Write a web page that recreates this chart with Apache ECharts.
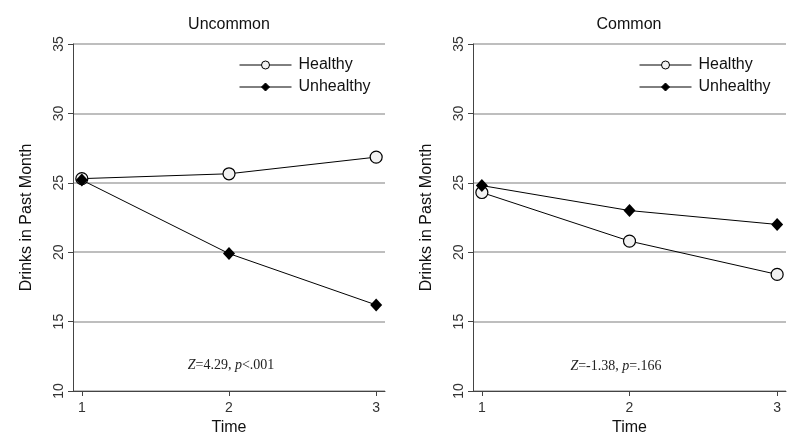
<!DOCTYPE html>
<html>
<head>
<meta charset="utf-8">
<script src="https://cdn.jsdelivr.net/npm/echarts@6/dist/echarts.min.js"></script>
<style>
  html, body { margin: 0; padding: 0; background: #fff; }
  #chart { width: 800px; height: 448px; }
</style>
</head>
<body>
<div id="chart"></div>
<script>
const times = [1, 2, 3];
const yTicks = [10, 15, 20, 25, 30, 35];
const panels = ["Uncommon", "Common"];
const uncommonHealthy = [25.3, 25.65, 26.85];
const uncommonUnhealthy = [25.2, 19.9, 16.2];
const commonHealthy = [24.3, 20.8, 18.4];
const commonUnhealthy = [24.8, 23.0, 22.0];
const notes = [
  ["Z", "=4.29, ", "p", "<.001"],
  ["Z", "=-1.38, ", "p", "=.166"],
];

const sans = "'Liberation Sans', Arial, sans-serif";
const serif = "'Liberation Serif', 'Times New Roman', serif";

const grids = [
  { left: 73, right: 415, top: 44, bottom: 57 },
  { left: 473, right: 14, top: 44, bottom: 57 },
];

const pairs = (vals) => times.map((t, i) => [t, vals[i]]);

const xAxis = grids.map((g, i) => ({
  type: "value",
  gridIndex: i,
  min: 0.94,
  max: 3.06,
  name: "Time",
  nameLocation: "middle",
  nameGap: 24,
  nameTextStyle: { fontFamily: sans, fontSize: 16, color: "#111" },
  axisLine: { lineStyle: { color: "#444", width: 1 } },
  axisTick: { show: true, length: 5, customValues: times, lineStyle: { color: "#444" } },
  axisLabel: { customValues: times, fontFamily: sans, fontSize: 14, color: "#333", margin: 10 },
  splitLine: { show: false },
}));

const yAxis = grids.map((g, i) => ({
  type: "value",
  gridIndex: i,
  min: yTicks[0],
  max: yTicks[yTicks.length - 1],
  interval: 5,
  name: "Drinks in Past Month",
  nameLocation: "middle",
  nameGap: 38,
  nameTextStyle: { fontFamily: sans, fontSize: 16, color: "#111" },
  axisLine: { show: true, lineStyle: { color: "#444", width: 1 } },
  axisTick: { show: true, length: 5, lineStyle: { color: "#444" } },
  axisLabel: { rotate: 90, fontFamily: sans, fontSize: 14, color: "#333", margin: 7 },
  splitLine: { show: true, lineStyle: { color: "#a8a8a8", width: 1.5 } },
}));

const healthyStyle = {
  symbol: "circle",
  symbolSize: 12,
  itemStyle: { color: "#f2f2f2", borderColor: "#000", borderWidth: 1.2 },
  lineStyle: { color: "#000", width: 1 },
};
const unhealthyStyle = {
  symbol: "diamond",
  symbolSize: [12, 13],
  itemStyle: { color: "#000", borderColor: "#000", borderWidth: 0 },
  lineStyle: { color: "#000", width: 1 },
};

const series = [
  Object.assign({ type: "line", name: "Healthy", xAxisIndex: 0, yAxisIndex: 0, data: pairs(uncommonHealthy), z: 3 }, healthyStyle),
  Object.assign({ type: "line", name: "Unhealthy", xAxisIndex: 0, yAxisIndex: 0, data: pairs(uncommonUnhealthy), z: 4 }, unhealthyStyle),
  Object.assign({ type: "line", name: "Healthy", xAxisIndex: 1, yAxisIndex: 1, data: pairs(commonHealthy), z: 3 }, healthyStyle),
  Object.assign({ type: "line", name: "Unhealthy", xAxisIndex: 1, yAxisIndex: 1, data: pairs(commonUnhealthy), z: 4 }, unhealthyStyle),
];

const legendAt = [239, 639];
const legend = legendAt.map((x) => ({
  data: ["Healthy", "Unhealthy"],
  orient: "vertical",
  left: x,
  top: 57,
  padding: 0,
  itemWidth: 52,
  itemHeight: 10,
  itemGap: 6,
  selectedMode: false,
  itemStyle: { borderWidth: 1 },
  lineStyle: { width: 1 },
  textStyle: { fontFamily: sans, fontSize: 16, lineHeight: 16, color: "#111", padding: [0, 0, 0, 2] },
}));

const titleAt = [229, 629];
const noteAt = [[231, 365], [616, 366]];
const graphic = [];
panels.forEach((p, i) => {
  graphic.push({
    type: "text",
    x: titleAt[i],
    y: 25,
    style: { text: p, fontFamily: sans, fontSize: 16, fill: "#111", align: "center", verticalAlign: "middle" },
  });
  const n = notes[i];
  graphic.push({
    type: "text",
    x: noteAt[i][0],
    y: noteAt[i][1],
    style: {
      text: "{i|" + n[0] + "}{r|" + n[1] + "}{i|" + n[2] + "}{r|" + n[3] + "}",
      align: "center",
      verticalAlign: "middle",
      rich: {
        i: { fontFamily: serif, fontSize: 14, fontStyle: "italic", fill: "#222" },
        r: { fontFamily: serif, fontSize: 14, fill: "#222" },
      },
    },
  });
});

const chart = echarts.init(document.getElementById("chart"), null, { renderer: "canvas" });
chart.setOption({
  backgroundColor: "#fff",
  animation: false,
  grid: grids,
  xAxis: xAxis,
  yAxis: yAxis,
  legend: legend,
  series: series,
  graphic: graphic,
});
</script>
</body>
</html>
